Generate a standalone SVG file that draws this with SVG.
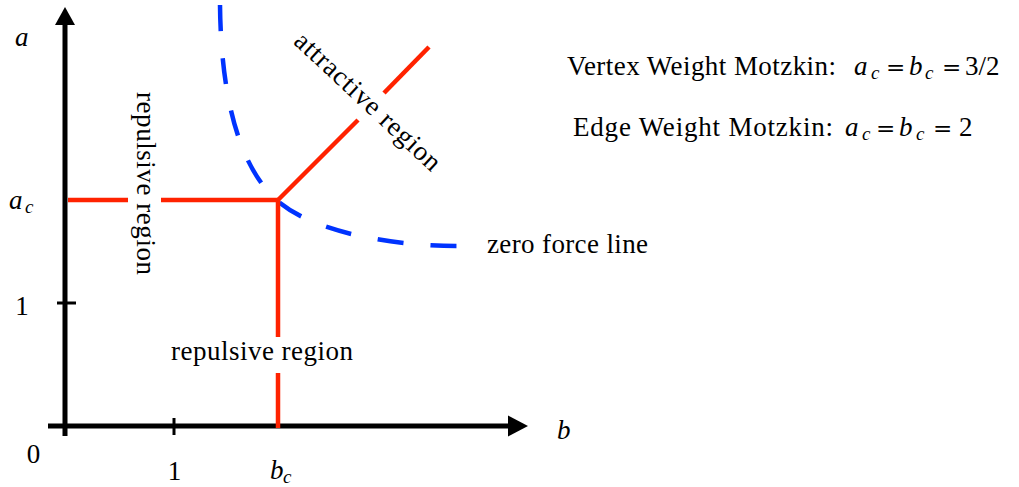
<svg xmlns="http://www.w3.org/2000/svg" width="1019" height="487" viewBox="0 0 1019 487">
<style>
text{font-family:"Liberation Serif","DejaVu Serif",serif;font-size:27px;fill:#000}
.i{font-style:italic}
.s{font-style:italic;font-size:19px}
.eq{font-family:"DejaVu Serif",serif;font-size:23px}
.ax{stroke:#000;stroke-width:5;fill:none}
.tk{stroke:#000;stroke-width:3}
.red{stroke:#ff2200;stroke-width:4.5;fill:none}
.blue{stroke:#0033ff;stroke-width:4.5;fill:none;stroke-dasharray:26 27}
</style>
<rect width="1019" height="487" fill="#fff"/>
<g id="axes">
<line class="ax" x1="48" y1="426" x2="510" y2="426"/>
<polygon points="528,426 508,415.5 508,436.5" fill="#000"/>
<line class="ax" x1="65" y1="436" x2="65" y2="23"/>
<polygon points="65,7 55,25 75,25" fill="#000"/>
<line class="tk" x1="57" y1="303" x2="76" y2="303"/>
<line class="tk" x1="174" y1="418" x2="174" y2="435"/>
</g>
<g id="zero-force-line">
<path class="blue" d="M220,5 C221,100 240,170 280,203 C320,235 400,246 460,246"/>
</g>
<g id="boundaries">
<line class="red" x1="68" y1="200" x2="128" y2="200"/>
<line class="red" x1="161" y1="200" x2="280" y2="200"/>
<line class="red" x1="278" y1="198" x2="278" y2="337"/>
<line class="red" x1="278" y1="373" x2="278" y2="428"/>
<line class="red" x1="277" y1="201" x2="358" y2="120"/>
<line class="red" x1="384" y1="93" x2="429" y2="47"/>
</g>
<g id="labels">
<text class="i" x="15" y="46">a</text>
<text x="9" y="209"><tspan class="i">a</tspan><tspan class="s" x="25" y="213">c</tspan></text>
<text x="22" y="315" text-anchor="middle">1</text>
<text x="33.5" y="463" text-anchor="middle">0</text>
<text x="174.5" y="480" text-anchor="middle">1</text>
<text x="270" y="479"><tspan class="i">b</tspan><tspan class="s" x="283" y="483">c</tspan></text>
<text class="i" x="557" y="439">b</text>
<text x="171" y="360" textLength="182" lengthAdjust="spacing">repulsive region</text>
<text transform="translate(137,92) rotate(90)" x="0" y="0" textLength="183" lengthAdjust="spacing">repulsive region</text>
<text transform="rotate(43 362 107.7)" x="362" y="107.7" text-anchor="middle" textLength="190" lengthAdjust="spacing">attractive region</text>
<text x="487" y="253" textLength="161" lengthAdjust="spacing">zero force line</text>
<text x="567" y="75" textLength="269" lengthAdjust="spacing">Vertex Weight Motzkin:</text>
<text x="854" y="75"><tspan class="i">a</tspan><tspan class="s" x="871" y="79">c</tspan><tspan class="eq" x="886" y="75">=</tspan><tspan class="i" x="909" y="75">b</tspan><tspan class="s" x="925" y="79">c</tspan><tspan class="eq" x="942" y="75">=</tspan><tspan x="965" y="75">3/2</tspan></text>
<text x="573" y="136" textLength="260" lengthAdjust="spacing">Edge Weight Motzkin:</text>
<text x="845" y="136"><tspan class="i">a</tspan><tspan class="s" x="862" y="140">c</tspan><tspan class="eq" x="876" y="136">=</tspan><tspan class="i" x="899" y="136">b</tspan><tspan class="s" x="916" y="140">c</tspan><tspan class="eq" x="933" y="136">=</tspan><tspan x="959" y="136">2</tspan></text>
</g>
</svg>
